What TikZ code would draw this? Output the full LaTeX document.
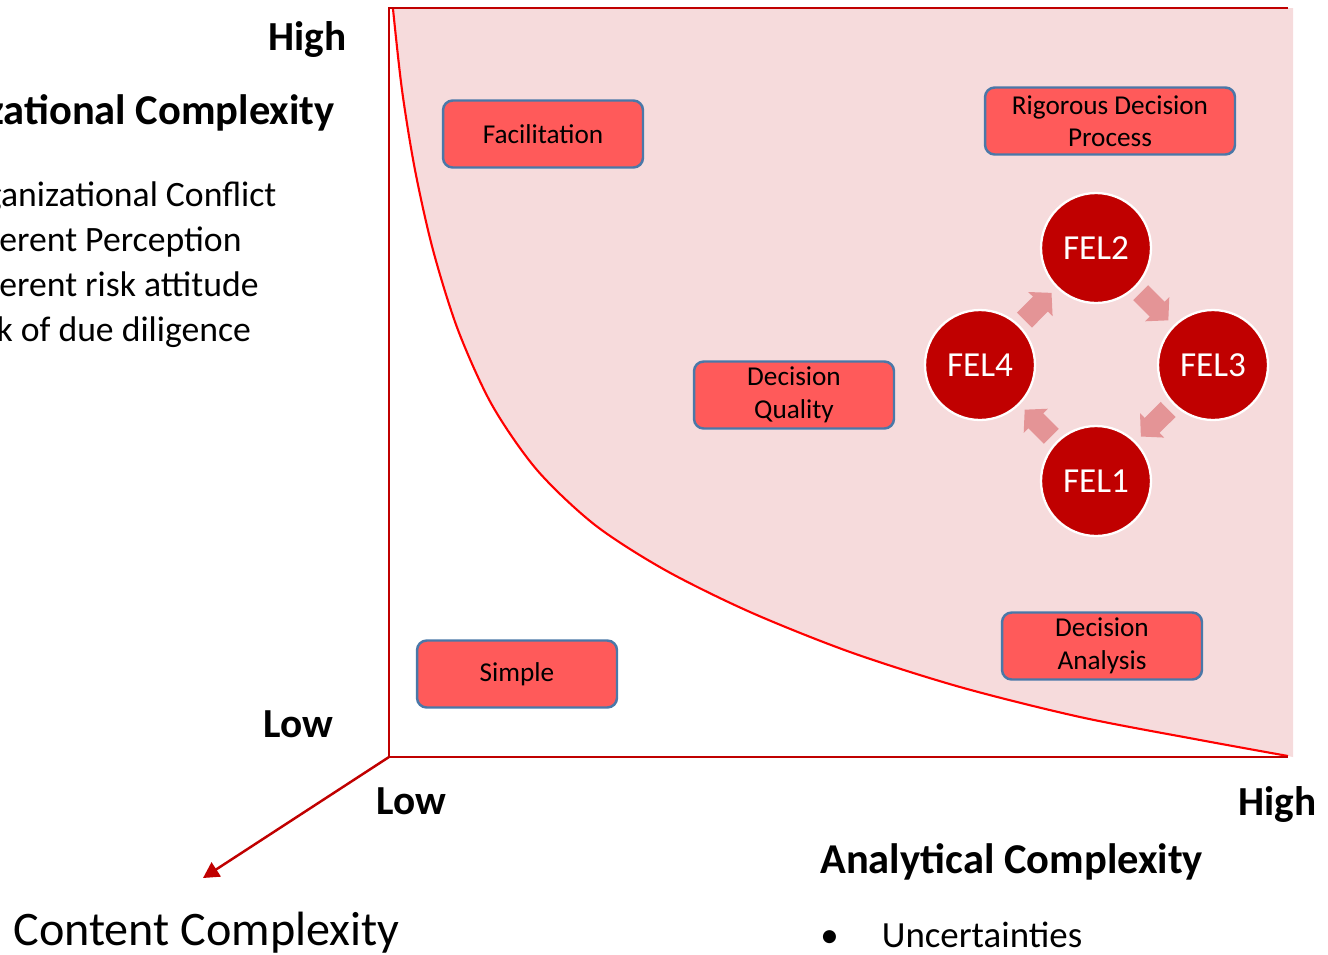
\documentclass[tikz,border=0pt]{standalone}
\usepackage{fontspec}
\setmainfont{Carlito}
\usetikzlibrary{arrows.meta}
\definecolor{darkred}{RGB}{192,0,0}
\definecolor{pinkbg}{RGB}{246,219,220}
\definecolor{boxred}{RGB}{255,90,90}
\definecolor{boxedge}{RGB}{74,120,168}
\definecolor{cyclepink}{RGB}{228,148,150}

\begin{document}
\begin{tikzpicture}[x=0.02cm, y=-0.02cm,
            frame/.style={draw=darkred, line width=1.4pt},
            box/.style={draw=boxedge, fill=boxred, line width=1.4pt, rounded corners=5.5pt, minimum width=4cm, minimum height=1.34cm, inner sep=1pt, align=center, font=\fontsize{15.5}{18.5}\selectfont},
            fel/.style={circle, draw=white, fill=darkred, line width=1.3pt, minimum size=2.2cm, inner sep=0pt, text=white, font=\fontsize{20}{24}\selectfont},
            cyc/.style={draw=cyclepink, line width=12pt, shorten <=4pt, shorten >=4pt, -{Triangle[width=19pt,length=9pt]}},
            lbl/.style={inner sep=0pt, font=\fontsize{23.5}{28}\selectfont\bfseries},
            title/.style={inner sep=0pt, font=\fontsize{24.2}{28}\selectfont\bfseries},
            listitem/.style={inner sep=0pt, font=\fontsize{20.3}{25}\selectfont}]
            \useasboundingbox (0,0) rectangle (1328,954);

            \fill[pinkbg] plot[smooth] coordinates {(393,9) (402,90) (415,170) (433,250) (458,330) (492,405) (537,470) (595,525) (665,570) (750,612) (850,652) (960,687) (1080,717) (1200,740) (1288,756)} -- (1293,757) -- (1293,8) -- cycle;
            \draw[red, line width=1.2pt] plot[smooth] coordinates {(393,9) (402,90) (415,170) (433,250) (458,330) (492,405) (537,470) (595,525) (665,570) (750,612) (850,652) (960,687) (1080,717) (1200,740) (1288,756)};

            \coordinate (o) at (389,757);
            \coordinate (cc) at (203,878);
            \draw[frame] (1288,8) -- (389,8) -- (o) -- (1288,757);
            \draw[frame, -{Triangle[width=9.5pt,length=9pt]}] (o) -- (cc);

            \node[box] (facil) at (543,134) {Facilitation};
            \node[box, minimum width=5cm] (rigor) at (1110,121) {Rigorous Decision\\Process};
            \node[box] (dq) at (794,395) {Decision\\Quality};
            \node[box] (da) at (1102,646) {Decision\\Analysis};
            \node[box] (simple) at (517,674) {Simple};

            \node[fel] (fel2) at (1096,248) {FEL2};
            \node[fel] (fel3) at (1213,365) {FEL3};
            \node[fel] (fel1) at (1096,481) {FEL1};
            \node[fel] (fel4) at (980,365) {FEL4};
            \draw[cyc] (fel4) -- (fel2);
            \draw[cyc] (fel2) -- (fel3);
            \draw[cyc] (fel3) -- (fel1);
            \draw[cyc] (fel1) -- (fel4);

            \node[lbl, anchor=base east] (yhigh) at (347,50) {High};
            \node[lbl, anchor=base east] (ylow) at (334,737) {Low};
            \node[lbl, anchor=base west] (xlow) at (376,814) {Low};
            \node[lbl, anchor=base east] (xhigh) at (1317,815) {High};
            \node[title, anchor=base east] (orgtitle) at (335,124) {Organizational Complexity};
            \node[title, anchor=base west] (antitle) at (820,873) {Analytical Complexity};

            \node[listitem, anchor=base west] (org1) at (-51,206) {Organizational Conflict};
            \node[listitem, anchor=base west] (org2) at (-51,251) {Different Perception};
            \node[listitem, anchor=base west] (org3) at (-51,296) {Different risk attitude};
            \node[listitem, anchor=base west] (org4) at (-51,341) {Lack of due diligence};
            \node[listitem, anchor=base west, font=\fontsize{21}{25}\selectfont] (an1) at (820,947) {\makebox[35pt][l]{\textbullet}Uncertainties};

            \node[inner sep=0pt, anchor=base west, font=\fontsize{27.4}{32}\selectfont] (content) at (13,945) {Content Complexity};
        \end{tikzpicture}
\end{document}
